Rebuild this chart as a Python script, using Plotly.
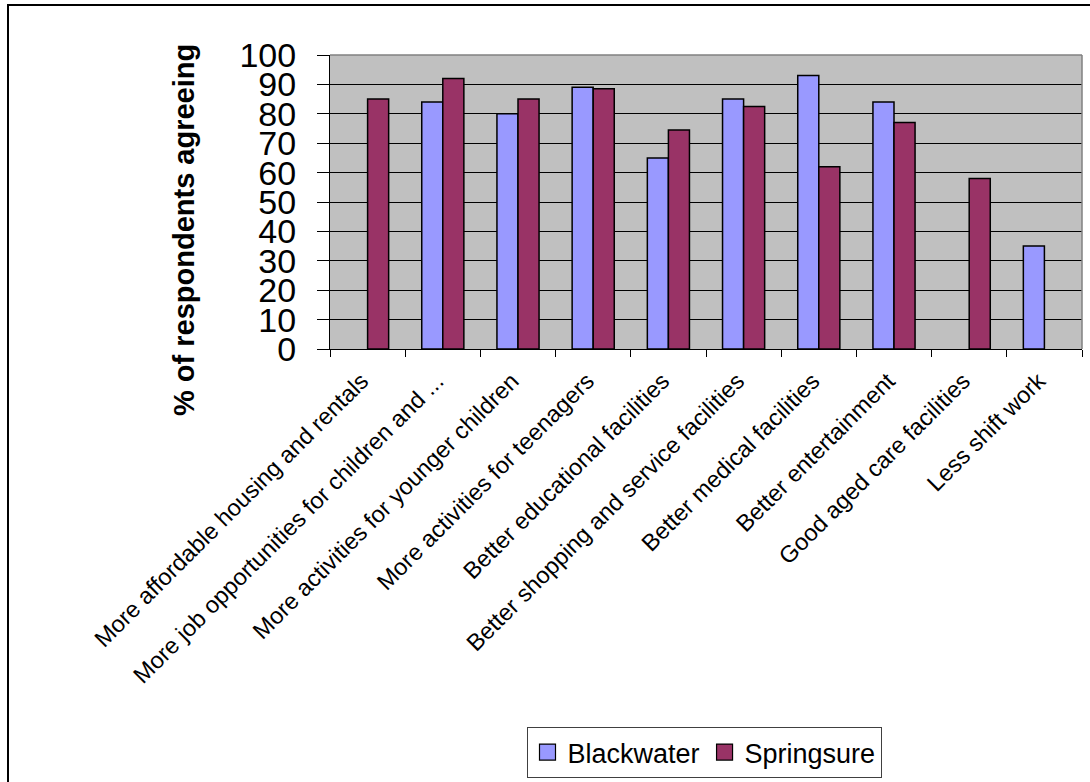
import plotly.graph_objects as go

categories = [
    "More affordable housing and rentals",
    "More job opportunities for children and ...",
    "More activities for younger children",
    "More activities for teenagers",
    "Better educational facilities",
    "Better shopping and service facilities",
    "Better medical facilities",
    "Better entertainment",
    "Good aged care facilities",
    "Less shift work",
]
blackwater = [None, 84, 80, 89, 65, 85, 93, 84, None, 35]
springsure = [85, 92, 85, 88.5, 74.5, 82.5, 62, 77, 58, None]
y_ticks = [0, 10, 20, 30, 40, 50, 60, 70, 80, 90, 100]
series_names = ["Blackwater", "Springsure"]
series_colors = ["#9999FF", "#993366"]

FONT = "Liberation Sans, Arial, sans-serif"

fig = go.Figure()
for name, vals, col in zip(series_names, [blackwater, springsure], series_colors):
    fig.add_trace(go.Bar(name=name, x=categories, y=vals, showlegend=False,
                         marker=dict(color=col, line=dict(color="black", width=1.5))))
# legend entries with square swatches
for name, col in zip(series_names, series_colors):
    fig.add_trace(go.Scatter(name=name, x=[None], y=[None], mode="markers",
                             marker=dict(symbol="square", size=16, color=col,
                                         line=dict(color="black", width=1.2)),
                             showlegend=True))

L, R, T, B = 330, 8, 55, 433
W, H = 1090, 782
pw, ph = W - L - R, H - T - B

def px_x(x):
    return (x - L) / pw

def px_y(y):
    return ((T + ph) - y) / ph

fig.update_layout(
    width=W, height=H,
    margin=dict(l=L, r=R, t=T, b=B, autoexpand=False),
    paper_bgcolor="white",
    plot_bgcolor="#C0C0C0",
    barmode="group",
    bargap=0.44,
    bargroupgap=0,
    font=dict(family=FONT, color="black"),
    showlegend=True,
    legend=dict(
        orientation="h",
        x=px_x(704), xanchor="center",
        y=px_y(778), yanchor="bottom",
        bordercolor="#404040", borderwidth=1,
        bgcolor="white",
        font=dict(size=27, family=FONT),
        itemwidth=30,
        tracegroupgap=0,
    ),
    xaxis=dict(
        type="category",
        tickangle=-45,
        tickfont=dict(size=23.5, family=FONT),
        ticks="outside", ticklen=7, tickcolor="black",
        tickson="boundaries",
        ticklabelstandoff=8,
        ticklabelshift=-6,
        showline=True, linecolor="black", linewidth=1,
        showgrid=False,
        automargin=False,
    ),
    yaxis=dict(
        range=[0, 100],
        tickvals=y_ticks,
        tickfont=dict(size=34, family=FONT),
        ticks="outside", ticklen=12, tickcolor="black",
        ticklabelstandoff=14,
        showline=True, linecolor="black", linewidth=1,
        showgrid=True, gridcolor="black", gridwidth=1,
        zeroline=False,
        automargin=False,
    ),
    annotations=[
        dict(text="<b>% of respondents agreeing</b>", textangle=-90,
             xref="paper", yref="paper", x=px_x(184), y=px_y(230),
             xanchor="center", yanchor="middle", showarrow=False,
             font=dict(size=29, family=FONT)),
    ],
    shapes=[
        dict(type="rect", xref="paper", yref="paper",
             x0=px_x(8), x1=px_x(1100),
             y0=px_y(800), y1=px_y(5),
             line=dict(color="black", width=2), fillcolor="rgba(0,0,0,0)", layer="below"),
        dict(type="line", xref="paper", yref="paper", x0=0, x1=1, y0=1, y1=1,
             line=dict(color="#808080", width=1.5)),
        dict(type="line", xref="paper", yref="paper", x0=1, x1=1, y0=0, y1=1,
             line=dict(color="#808080", width=1.5)),
    ],
)

fig.write_html("out.html")
